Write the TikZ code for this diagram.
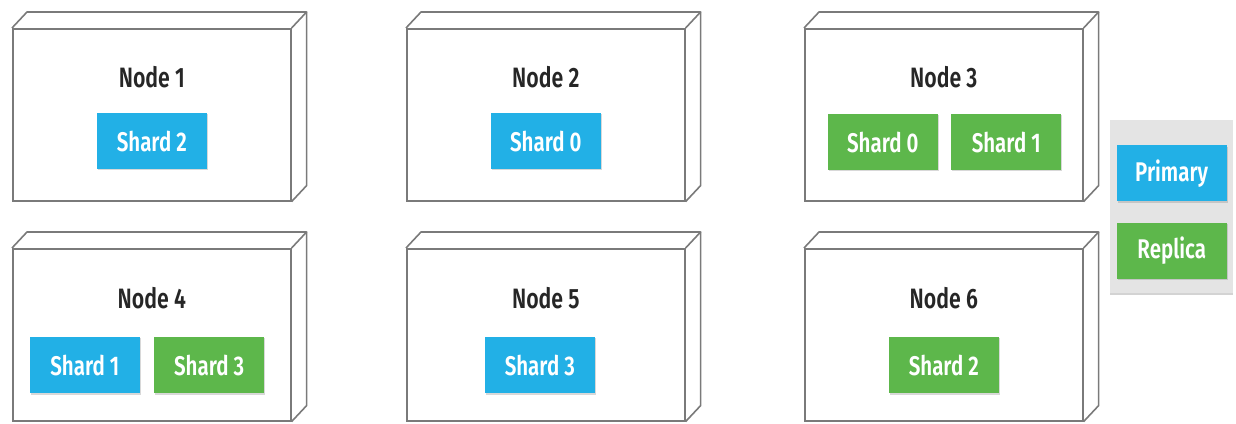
\documentclass[tikz,border=0pt]{standalone}
\usepackage{fontspec}
\setmainfont{Fira Sans}[FakeStretch=0.76, UprightFont=* SemiBold]
\usetikzlibrary{positioning,shadows}

\definecolor{primblue}{HTML}{22B0E6}
\definecolor{replgreen}{HTML}{5DB74B}
\definecolor{edgegray}{HTML}{7A7A7A}
\definecolor{panelgray}{HTML}{E4E4E4}

\begin{document}
\begin{tikzpicture}[
  x=1pt, y=1pt,
  server/.style={draw=edgegray, line width=1.6pt, fill=white, minimum width=278pt, minimum height=172pt, anchor=north west},
  edge/.style={draw=edgegray, line width=1.6pt, line join=round},
  title/.style={font=\fontsize{28}{32}\selectfont, text=black!85},
  shard/.style={minimum width=110pt, minimum height=56pt, inner sep=0pt, text=white,
    font=\fontsize{27}{32}\selectfont, drop shadow={shadow xshift=1pt, shadow yshift=-1.5pt, opacity=.3}},
  primary/.style={shard, fill=primblue},
  replica/.style={shard, fill=replgreen}
]
\useasboundingbox (0,0) rectangle (1236,423);

% servers
\node[server] (srv1) at (12,395) {};
\node[server] (srv2) at (406,395) {};
\node[server] (srv3) at (804,395) {};
\node[server] (srv4) at (12,175) {};
\node[server] (srv5) at (406,175) {};
\node[server] (srv6) at (804,175) {};

\foreach \n in {1,...,6} {
  \draw[edge] (srv\n.north west) -- ++(15,16) -- ([shift={(15,16)}]srv\n.north east) -- (srv\n.north east);
  \draw[edge] ([shift={(15,16)}]srv\n.north east) -- ([shift={(15,16)}]srv\n.south east) -- (srv\n.south east);
}

% labels
\node[title] (lbl1) at ([yshift=-49pt]srv1.north) {Node 1};
\node[title] (lbl2) at ([yshift=-49pt]srv2.north) {Node 2};
\node[title] (lbl3) at ([yshift=-49pt]srv3.north) {Node 3};
\node[title] (lbl4) at ([yshift=-50pt]srv4.north) {Node 4};
\node[title] (lbl5) at ([yshift=-50pt]srv5.north) {Node 5};
\node[title] (lbl6) at ([yshift=-50pt]srv6.north) {Node 6};

% shards
\node[primary] (s1) at ([yshift=-113pt]srv1.north) {Shard 2};
\node[primary] (s2) at ([yshift=-113pt]srv2.north) {Shard 0};
\node[replica] (s3a) at ([xshift=-61pt,yshift=-114pt]srv3.north) {Shard 0};
\node[replica, right=13pt of s3a] (s3b) {Shard 1};
\node[primary] (s4a) at ([xshift=-67pt,yshift=-117pt]srv4.north) {Shard 1};
\node[replica, right=14pt of s4a] (s4b) {Shard 3};
\node[primary] (s5) at ([xshift=-6pt,yshift=-117pt]srv5.north) {Shard 3};
\node[replica] (s6) at ([yshift=-117pt]srv6.north) {Shard 2};

% legend
\node[fill=panelgray, minimum width=123pt, minimum height=173pt, anchor=north west,
  drop shadow={shadow xshift=0pt, shadow yshift=-2pt, opacity=.35}] (legend) at (1110,303) {};
\node[primary, below=25pt of legend.north] (prim) {Primary};
\node[replica, below=21pt of prim] (repl) {Replica};
\end{tikzpicture}
\end{document}
